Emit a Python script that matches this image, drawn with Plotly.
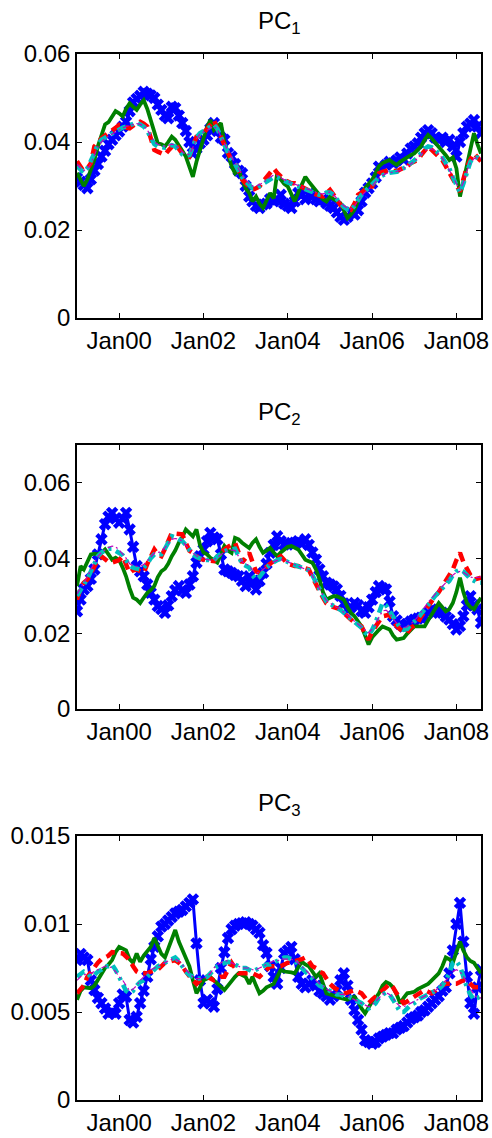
import pandas as pd
import plotly.graph_objects as go
from plotly.subplots import make_subplots

# Monthly observations, Jan 1999 .. Aug 2008
dates = pd.date_range("1999-01-01", periods=116, freq="MS")

# ---- values in units of 1e-3 ----
pc1_blue = [31.8, 31.0, 30.2, 29.5, 31.5, 33.5, 35.0, 36.7, 38.0, 39.5, 40.5, 41.5,
            42.4, 43.5, 44.6, 47.0, 49.0, 49.8, 50.5, 51.4, 51.0, 50.6, 50.0, 48.5,
            47.3, 46.0, 45.4, 48.0, 47.7, 46.0, 44.3, 42.5, 40.0, 37.4, 38.5, 39.7,
            40.5, 41.5, 43.0, 44.3, 42.5, 41.0, 40.5, 37.5, 36.7, 35.0, 33.5, 32.9,
            30.0, 27.6, 26.5, 25.5, 25.0, 25.8, 26.0, 27.0, 26.5, 26.9, 28.0, 26.0,
            25.5, 25.0, 26.5, 28.4, 28.0, 27.0, 28.2, 27.6, 27.0, 26.5, 27.0, 26.1,
            25.5, 25.0, 24.0, 23.0, 22.3, 23.0, 24.0, 23.5, 24.5, 26.5, 28.5, 29.5,
            30.6, 32.0, 34.4, 34.0, 34.8, 35.5, 35.2, 35.8, 36.5, 36.0, 37.4, 38.5,
            39.0, 39.7, 41.0, 42.0, 42.7, 42.0, 41.0, 40.5, 41.0, 40.0, 40.5, 39.0,
            36.7, 40.0, 42.0, 43.5, 44.2, 45.0, 43.5, 42.0]
pc1_green = [33.0, 31.5, 30.0, 31.5, 33.5, 36.0, 39.0, 41.5, 44.0, 44.5, 46.0, 47.0,
             46.5, 45.8, 47.5, 48.8, 48.0, 47.3, 48.5, 49.5, 47.5, 45.0, 42.5, 39.7,
             39.5, 39.0, 40.0, 41.2, 40.5, 39.0, 38.0, 36.7, 34.0, 32.1, 35.5, 38.2,
             41.0, 43.5, 45.0, 42.7, 43.5, 44.3, 40.0, 37.4, 34.5, 32.9, 33.7, 31.5,
             29.5, 28.4, 26.5, 27.6, 26.0, 25.0, 26.5, 28.4, 27.2, 32.9, 31.5, 30.5,
             29.9, 28.0, 26.5, 28.5, 30.5, 32.1, 31.0, 30.0, 29.1, 28.0, 27.0, 26.5,
             27.6, 27.0, 26.5, 26.1, 24.5, 22.7, 23.5, 24.6, 26.5, 28.4, 29.5, 30.5,
             31.4, 33.0, 34.5, 35.2, 35.5, 35.9, 35.3, 34.8, 35.5, 36.0, 36.7, 37.0,
             37.4, 38.2, 39.0, 40.5, 41.6, 40.8, 39.9, 39.0, 38.0, 37.0, 35.9, 36.5,
             34.0, 27.6, 31.0, 35.0, 39.0, 42.0, 39.5, 37.4]
pc1_red = [35.6, 34.5, 33.3, 34.0, 35.2, 39.0, 40.0, 40.8, 41.5, 42.0, 42.8, 43.2,
           43.9, 43.5, 43.3, 43.1, 43.8, 44.3, 44.6, 44.2, 43.5, 41.0, 38.2, 37.8,
           37.5, 37.1, 38.0, 38.8, 39.7, 38.5, 37.4, 37.0, 36.7, 39.0, 41.2, 41.5,
           42.0, 43.0, 44.0, 45.0, 43.0, 41.0, 39.0, 37.5, 36.0, 35.2, 33.5, 31.5,
           30.6, 29.8, 29.1, 29.5, 29.9, 31.0, 32.1, 33.0, 34.0, 33.0, 32.0, 31.4,
           31.0, 30.6, 30.6, 30.2, 29.9, 29.5, 29.0, 28.4, 28.0, 27.8, 27.6, 28.4,
           29.1, 28.0, 27.0, 25.7, 25.2, 24.8, 24.6, 26.0, 28.0, 28.5, 29.2, 29.9,
           29.9, 31.5, 32.9, 33.2, 33.5, 33.7, 33.5, 33.3, 33.8, 34.2, 34.4, 35.2,
           35.5, 35.9, 37.0, 38.2, 39.0, 38.2, 37.4, 36.8, 35.9, 34.5, 33.0, 31.5,
           30.0, 28.7, 31.5, 34.4, 36.0, 37.4, 36.5, 35.6]
pc1_cyan = [34.5, 33.5, 33.0, 34.0, 35.5, 37.5, 39.5, 40.5, 41.0, 41.5, 42.0, 42.5,
            43.0, 43.3, 43.5, 43.8, 44.2, 44.4, 44.0, 43.5, 42.5, 41.0, 39.5, 39.0,
            38.8, 38.7, 39.0, 39.3, 39.0, 38.0, 37.2, 36.8, 37.0, 39.0, 41.0, 42.0,
            42.5, 43.0, 43.5, 44.0, 43.0, 41.0, 39.0, 37.5, 36.0, 35.0, 33.5, 32.0,
            31.0, 30.0, 29.5, 29.5, 30.0, 30.5, 31.0, 31.5, 32.0, 32.0, 31.5, 31.0,
            30.8, 30.5, 30.2, 30.0, 29.8, 29.5, 29.0, 28.6, 28.3, 28.0, 28.0, 28.5,
            28.5, 28.0, 27.0, 26.0, 25.2, 24.7, 24.5, 25.5, 27.0, 28.0, 28.8, 29.5,
            30.3, 31.2, 32.0, 32.5, 32.8, 33.0, 33.0, 33.2, 33.6, 34.0, 34.5, 35.2,
            35.8, 36.5, 37.5, 38.5, 39.0, 38.8, 38.2, 37.5, 36.5, 35.2, 34.0, 32.0,
            30.0, 28.5, 30.5, 33.5, 35.5, 36.5, 36.5, 36.0]
pc1_magenta = [35.0, 34.0, 33.5, 34.0, 35.0, 37.0, 39.0, 40.0, 40.8, 41.3, 41.8, 42.3,
               42.8, 43.2, 43.5, 43.8, 44.0, 44.2, 44.0, 43.6, 42.8, 41.3, 40.0, 39.5,
               39.2, 39.0, 39.2, 39.5, 39.3, 38.5, 37.8, 37.2, 37.2, 38.8, 40.8, 41.8,
               42.3, 42.8, 43.3, 43.6, 42.8, 41.2, 39.5, 38.0, 36.5, 35.3, 33.8, 32.5,
               31.5, 30.5, 30.0, 30.0, 30.3, 30.8, 31.3, 32.0, 32.5, 32.3, 31.8, 31.3,
               31.0, 30.7, 30.4, 30.1, 29.8, 29.5, 29.1, 28.8, 28.5, 28.3, 28.2, 28.5,
               28.6, 28.0, 27.2, 26.2, 25.5, 25.0, 24.8, 25.5, 26.8, 27.8, 28.6, 29.3,
               30.0, 31.0, 31.8, 32.4, 32.8, 33.0, 33.1, 33.3, 33.6, 34.0, 34.4, 35.0,
               35.6, 36.3, 37.2, 38.0, 38.5, 38.4, 38.0, 37.3, 36.3, 35.0, 33.8, 32.2,
               30.5, 29.2, 30.8, 33.5, 35.2, 36.2, 36.5, 36.2]

pc2_blue = [25.9, 29.0, 31.7, 32.6, 34.5, 37.0, 41.0, 45.0, 49.0, 51.0, 52.0, 50.5,
            49.4, 50.5, 52.0, 47.6, 43.0, 37.9, 36.5, 35.2, 33.0, 30.8, 29.0, 27.3,
            26.5, 25.5, 27.5, 29.9, 31.5, 32.6, 31.5, 30.8, 33.0, 35.2, 38.8, 40.5,
            42.3, 44.5, 46.7, 45.5, 45.0, 41.0, 37.0, 36.5, 36.1, 35.5, 35.2, 34.0,
            32.6, 35.2, 33.5, 31.7, 34.0, 36.1, 38.5, 41.4, 43.5, 45.8, 44.5, 43.6,
            43.6, 44.0, 44.1, 44.5, 43.8, 45.0, 43.5, 41.5, 39.6, 37.0, 35.2, 33.5,
            33.0, 32.5, 31.7, 30.0, 28.0, 26.4, 27.0, 28.1, 27.5, 26.0, 25.5, 27.0,
            29.0, 31.0, 32.6, 32.0, 31.7, 28.5, 24.6, 23.5, 22.5, 21.9, 22.5, 23.2,
            23.7, 24.0, 24.2, 24.6, 25.5, 26.4, 26.0, 25.5, 25.5, 24.5, 23.7, 22.5,
            21.1, 22.0, 24.6, 27.5, 29.9, 27.5, 26.4, 22.8]
pc2_green = [32.6, 37.9, 37.0, 39.0, 41.0, 41.2, 41.0, 41.4, 42.3, 41.0, 39.6, 40.1,
             39.5, 37.5, 35.2, 32.0, 29.5, 29.0, 28.1, 29.5, 30.8, 31.5, 32.6, 35.0,
             36.5, 37.2, 38.5, 40.5, 42.0, 44.1, 45.5, 47.6, 46.5, 45.8, 47.6, 43.5,
             41.5, 41.0, 40.1, 39.5, 38.8, 41.0, 43.2, 42.0, 41.4, 45.4, 45.0, 44.1,
             43.5, 42.7, 44.0, 45.0, 43.0, 41.4, 42.0, 42.7, 41.5, 40.5, 41.5, 42.3,
             43.0, 43.2, 42.8, 42.3, 41.0, 39.6, 39.2, 38.8, 37.0, 34.5, 31.0, 29.0,
             29.5, 29.9, 29.9, 29.5, 29.0, 27.0, 25.5, 24.6, 23.0, 21.9, 19.5, 17.1,
             19.0, 20.2, 21.0, 21.9, 21.5, 21.1, 19.5, 18.4, 18.6, 18.8, 20.0, 21.0,
             21.9, 21.9, 21.9, 21.9, 23.5, 25.0, 26.5, 28.1, 27.0, 25.9, 26.5, 28.1,
             31.0, 34.8, 31.0, 28.1, 27.0, 26.4, 28.0, 29.5]
pc2_red = [29.0, 32.0, 33.5, 34.3, 36.0, 37.9, 39.5, 40.5, 39.6, 39.0, 38.8, 39.2,
           39.5, 40.5, 38.5, 36.1, 36.8, 37.0, 36.5, 36.1, 38.5, 40.5, 42.3, 41.0,
           40.5, 42.5, 44.5, 46.7, 46.5, 46.3, 46.3, 44.0, 42.0, 41.4, 40.5, 39.8,
           39.6, 39.4, 39.2, 39.2, 40.5, 41.5, 42.3, 43.0, 43.5, 44.1, 41.5, 38.8,
           40.0, 41.4, 39.0, 36.5, 36.1, 37.0, 37.9, 38.5, 39.2, 40.0, 40.5, 39.5,
           38.5, 38.2, 37.9, 37.9, 37.5, 37.2, 37.0, 35.0, 33.0, 31.7, 29.5, 28.0,
           27.3, 27.0, 26.6, 26.4, 25.5, 24.5, 23.7, 23.0, 22.5, 21.9, 20.0, 18.4,
           20.5, 21.9, 23.5, 24.6, 24.8, 25.0, 23.5, 22.0, 21.1, 20.6, 20.2, 21.5,
           22.0, 22.8, 24.5, 25.9, 27.5, 28.8, 29.9, 31.0, 32.5, 33.5, 35.0, 37.0,
           39.5, 41.4, 39.0, 37.0, 35.5, 34.3, 34.5, 34.8]
pc2_cyan = [30.0, 31.5, 33.0, 34.5, 36.5, 38.5, 40.5, 41.5, 42.0, 42.5, 42.5, 42.0,
            41.5, 40.8, 39.5, 38.0, 37.5, 37.2, 37.0, 37.5, 38.5, 40.0, 41.0, 41.0,
            41.0, 42.5, 44.0, 45.8, 45.5, 45.0, 44.5, 43.5, 42.0, 41.0, 40.3, 39.8,
            39.6, 39.5, 39.4, 39.5, 40.5, 41.2, 41.8, 42.2, 42.5, 42.5, 40.5, 38.5,
            38.0, 37.5, 35.5, 34.3, 35.0, 36.5, 37.5, 38.3, 39.0, 39.5, 39.8, 39.5,
            39.0, 38.5, 38.0, 37.8, 37.5, 37.2, 36.8, 35.5, 33.5, 32.0, 30.0, 28.5,
            27.8, 27.2, 26.8, 26.3, 25.5, 24.5, 23.8, 23.0, 22.3, 21.5, 20.2, 19.5,
            21.0, 23.0, 25.5, 28.1, 27.5, 26.0, 24.0, 22.5, 21.5, 21.0, 21.2, 22.3,
            23.0, 24.0, 25.2, 26.5, 27.8, 29.0, 30.0, 31.0, 32.0, 33.0, 34.0, 35.5,
            36.5, 37.0, 36.5, 35.5, 34.5, 34.0, 33.5, 33.5]
pc2_magenta = [30.5, 32.0, 33.5, 35.0, 37.0, 38.8, 40.5, 41.5, 42.2, 42.8, 43.2, 43.0,
               42.2, 41.2, 40.0, 38.5, 38.0, 37.8, 37.8, 38.3, 39.3, 40.5, 41.3, 41.5,
               41.7, 42.8, 44.0, 45.0, 45.2, 45.0, 44.5, 43.5, 42.3, 41.3, 40.6, 40.0,
               39.8, 39.6, 39.5, 39.6, 40.3, 41.0, 41.6, 42.0, 42.2, 42.0, 40.5, 39.0,
               38.5, 38.0, 36.8, 36.0, 36.3, 37.0, 37.8, 38.5, 39.0, 39.4, 39.6, 39.4,
               39.0, 38.6, 38.2, 37.9, 37.6, 37.2, 36.7, 35.4, 33.6, 32.0, 30.2, 28.8,
               28.0, 27.4, 26.9, 26.4, 25.6, 24.8, 24.0, 23.2, 22.5, 21.8, 20.8, 20.2,
               21.2, 22.8, 24.5, 26.0, 26.2, 25.5, 24.0, 22.8, 22.0, 21.6, 21.8, 22.6,
               23.4, 24.5, 25.8, 27.0, 28.3, 29.4, 30.5, 31.5, 32.5, 33.5, 34.5, 35.5,
               36.2, 36.5, 36.2, 35.6, 35.0, 34.8, 34.8, 35.0]

pc3_blue = [7.95, 8.3, 8.1, 7.95, 6.8, 6.25, 5.8, 5.5, 5.2, 4.9, 5.0, 4.9,
            5.5, 6.0, 5.87, 4.55, 4.4, 4.73, 5.5, 6.2, 7.0, 8.0, 8.7, 9.3,
            9.85, 10.0, 10.2, 10.4, 10.6, 10.7, 10.8, 11.0, 11.2, 11.4, 8.9, 6.8,
            5.5, 5.7, 5.5, 5.3, 6.3, 7.5, 8.4, 9.2, 9.7, 9.9, 10.0, 10.05,
            10.1, 10.0, 9.9, 9.7, 9.5, 8.8, 8.35, 7.6, 7.0, 6.6, 7.5, 8.33,
            8.5, 8.7, 8.0, 7.0, 6.6, 6.4, 6.6, 6.8, 6.5, 6.2, 6.06, 5.9,
            5.7, 5.9, 6.25, 6.8, 7.2, 6.5, 5.7, 5.1, 4.55, 4.0, 3.4, 3.3,
            3.2, 3.3, 3.5, 3.6, 3.7, 3.8, 3.8, 4.0, 4.1, 4.2, 4.4, 4.6,
            4.7, 4.8, 5.0, 5.1, 5.3, 5.5, 5.7, 5.9, 6.2, 6.4, 7.2, 8.5,
            10.0, 11.2, 9.0, 7.0, 5.5, 4.9, 6.4, 7.4]
pc3_green = [5.7, 6.2, 6.4, 6.35, 6.35, 6.5, 6.8, 7.2, 7.5, 7.7, 7.95, 8.4,
             8.7, 8.6, 8.5, 8.0, 7.8, 8.33, 7.86, 8.2, 8.5, 8.7, 9.2, 8.7,
             8.3, 8.1, 8.6, 9.1, 9.66, 9.0, 8.5, 8.0, 7.6, 6.8, 6.06, 6.4,
             6.8, 6.9, 7.0, 6.8, 6.6, 6.4, 6.25, 6.5, 6.8, 7.0, 7.2, 7.1,
             7.0, 6.6, 7.0, 6.5, 6.06, 6.2, 6.4, 6.5, 6.6, 7.0, 7.4, 7.3,
             7.3, 7.25, 7.2, 7.5, 7.86, 7.7, 7.6, 7.3, 7.0, 7.2, 6.6, 6.06,
             6.0, 5.9, 5.87, 5.8, 5.75, 5.7, 5.8, 5.87, 5.6, 5.2, 4.92, 5.3,
             5.6, 5.8, 6.06, 6.5, 6.7, 6.6, 6.4, 6.0, 5.5, 5.8, 6.06, 6.1,
             6.15, 6.3, 6.4, 6.5, 6.6, 6.8, 7.0, 7.2, 7.6, 8.1, 8.0, 7.8,
             8.4, 9.0, 8.5, 8.1, 7.9, 7.8, 7.5, 7.2]
pc3_red = [6.06, 6.3, 6.5, 7.0, 7.3, 7.6, 7.8, 8.0, 8.1, 8.2, 8.4, 8.35,
           8.35, 8.33, 8.1, 7.95, 7.6, 7.3, 7.2, 7.2, 7.2, 7.3, 7.35, 7.4,
           7.6, 7.8, 7.85, 7.9, 7.95, 7.8, 7.6, 7.3, 7.0, 6.8, 6.6, 6.8,
           7.0, 7.0, 6.9, 6.8, 6.9, 7.0, 7.0, 7.4, 7.8, 7.5, 7.2, 7.2,
           7.2, 7.2, 7.2, 7.1, 7.0, 7.2, 7.4, 7.6, 7.6, 7.6, 7.6, 7.7,
           7.8, 7.8, 7.9, 7.95, 8.0, 8.1, 7.9, 7.6, 7.5, 7.3, 7.2, 6.9,
           6.6, 6.4, 6.3, 6.2, 6.06, 6.1, 6.2, 6.25, 6.15, 6.06, 5.8, 5.5,
           5.7, 5.87, 6.0, 6.25, 6.4, 6.6, 6.4, 6.06, 5.8, 5.5, 5.6, 5.7,
           5.87, 6.0, 6.1, 6.25, 6.15, 6.06, 6.2, 6.4, 6.5, 6.6, 6.6, 6.6,
           6.6, 6.7, 6.8, 6.8, 6.6, 6.4, 6.4, 6.4]
pc3_cyan = [7.0, 7.2, 7.3, 7.2, 7.0, 7.1, 7.3, 7.4, 7.6, 7.6, 7.7, 7.4,
            7.0, 6.6, 6.2, 6.06, 6.2, 6.5, 6.7, 6.8, 7.0, 7.2, 7.4, 7.6,
            7.7, 7.8, 7.9, 8.0, 8.1, 7.9, 7.6, 7.3, 7.1, 7.0, 6.9, 6.9,
            6.9, 7.0, 7.2, 7.4, 7.6, 7.7, 7.8, 7.85, 7.8, 7.7, 7.6, 7.5,
            7.5, 7.4, 7.3, 7.4, 7.5, 7.6, 7.7, 7.7, 7.8, 7.9, 8.0, 8.1,
            8.1, 8.0, 7.9, 7.7, 7.5, 7.3, 7.1, 6.9, 6.7, 6.5, 6.4, 6.3,
            6.2, 6.1, 6.0, 6.0, 5.9, 5.9, 5.8, 5.7, 5.6, 5.5, 5.3, 5.2,
            5.3, 5.5, 5.8, 6.0, 6.1, 6.0, 5.7, 5.3, 5.0, 5.0, 5.2, 5.4,
            5.5, 5.7, 5.8, 5.9, 6.0, 6.1, 6.2, 6.3, 6.5, 6.8, 7.2, 7.8,
            7.9, 7.6, 7.0, 6.4, 6.0, 5.7, 5.8, 5.9]
pc3_magenta = [6.8, 7.0, 7.1, 7.2, 7.2, 7.3, 7.4, 7.5, 7.6, 7.6, 7.5, 7.3,
               7.0, 6.8, 6.5, 6.2, 6.3, 6.5, 6.8, 7.0, 7.2, 7.4, 7.5, 7.6,
               7.7, 7.8, 7.9, 8.0, 8.0, 7.9, 7.7, 7.4, 7.2, 7.0, 6.9, 6.9,
               6.9, 7.0, 7.2, 7.5, 7.7, 7.8, 7.9, 7.9, 7.8, 7.7, 7.6, 7.5,
               7.5, 7.5, 7.4, 7.4, 7.5, 7.6, 7.7, 7.8, 7.9, 7.9, 8.0, 8.0,
               8.0, 8.0, 7.9, 7.8, 7.6, 7.4, 7.2, 7.0, 6.8, 6.6, 6.5, 6.3,
               6.2, 6.1, 6.1, 6.0, 6.0, 5.9, 5.8, 5.7, 5.6, 5.5, 5.4, 5.3,
               5.4, 5.6, 5.8, 6.0, 6.1, 6.0, 5.8, 5.5, 5.3, 5.3, 5.4, 5.5,
               5.6, 5.7, 5.8, 5.9, 6.0, 6.1, 6.2, 6.4, 6.6, 6.8, 7.0, 7.3,
               7.4, 7.3, 7.0, 6.7, 6.3, 6.0, 5.8, 5.8]

SCALE = 1e-3

titles = ["PC<sub>1</sub>", "PC<sub>2</sub>", "PC<sub>3</sub>"]
xtick_vals = ["2000-01-01", "2002-01-01", "2004-01-01", "2006-01-01", "2008-01-01"]
xtick_text = ["Jan00", "Jan02", "Jan04", "Jan06", "Jan08"]
y_ranges = [[0, 0.06], [0, 0.07], [0, 0.015]]
ytick_vals = [[0, 0.02, 0.04, 0.06], [0, 0.02, 0.04, 0.06], [0, 0.005, 0.01, 0.015]]
ytick_text = [["0", "0.02", "0.04", "0.06"], ["0", "0.02", "0.04", "0.06"],
              ["0", "0.005", "0.01", "0.015"]]

panels = [
    (pc1_blue, pc1_green, pc1_red, pc1_cyan, pc1_magenta),
    (pc2_blue, pc2_green, pc2_red, pc2_cyan, pc2_magenta),
    (pc3_blue, pc3_green, pc3_red, pc3_cyan, pc3_magenta),
]
for p in panels:
    for s in p:
        assert len(s) == len(dates), len(s)

fig = make_subplots(rows=3, cols=1)

FONT = "Arial, Liberation Sans, Helvetica, sans-serif"
FS = 24
for i, (b, g, r, c, m) in enumerate(panels):
    row = i + 1
    sc = lambda arr: [v * SCALE for v in arr]
    fig.add_trace(go.Scatter(x=dates, y=sc(b), mode="lines+markers",
                             line=dict(color="#0000FF", width=3),
                             marker=dict(symbol="x", size=11, color="#0000FF",
                                         line=dict(width=0)),
                             showlegend=False), row=row, col=1)
    fig.add_trace(go.Scatter(x=dates, y=sc(g), mode="lines",
                             line=dict(color="#008000", width=3.8),
                             showlegend=False), row=row, col=1)
    fig.add_trace(go.Scatter(x=dates, y=sc(r), mode="lines",
                             line=dict(color="#FF0000", width=4.5, dash="10px,6px"),
                             showlegend=False), row=row, col=1)
    fig.add_trace(go.Scatter(x=dates, y=sc(c), mode="lines",
                             line=dict(color="#00BFBF", width=4.5,
                                       dash="9px,5px,3px,5px"),
                             showlegend=False), row=row, col=1)
    fig.add_trace(go.Scatter(x=dates, y=sc(m), mode="lines",
                             line=dict(color="#BF00BF", width=1.2,
                                       dash="6px,3px,2px,3px"),
                             showlegend=False), row=row, col=1)

H = 1138
top, bottom = 54, 38
ph = 264
gap = (H - top - bottom - 3 * ph) / 2
tot = H - top - bottom
domains = []
for i in range(3):
    y_top_px = top + i * (ph + gap)
    y_bot_px = y_top_px + ph
    domains.append([(H - bottom - y_bot_px) / tot, (H - bottom - y_top_px) / tot])

for i in range(3):
    ax = "" if i == 0 else str(i + 1)
    fig.layout["xaxis" + ax].update(
        range=["1999-01-01", "2008-08-01"], tickvals=xtick_vals, ticktext=xtick_text,
        ticks="inside", ticklen=5, tickcolor="black", mirror="ticks", showline=True,
        linecolor="black", linewidth=1.5, showgrid=False, zeroline=False,
        automargin=False,
        tickfont=dict(size=FS, color="black", family=FONT))
    fig.layout["yaxis" + ax].update(
        domain=domains[i], range=y_ranges[i], tickvals=ytick_vals[i],
        ticktext=ytick_text[i], ticks="inside", ticklen=5, tickcolor="black",
        mirror="ticks", showline=True, linecolor="black", linewidth=1.5,
        showgrid=False, zeroline=False, automargin=False,
        tickfont=dict(size=FS, color="black", family=FONT))
    fig.add_annotation(text=titles[i], xref="paper", yref="paper", x=0.5,
                       y=domains[i][1], yanchor="bottom", yshift=14,
                       showarrow=False, font=dict(size=FS, color="black", family=FONT))

fig.update_layout(width=492, height=1138, margin=dict(l=77, r=11, t=top, b=bottom),
                  paper_bgcolor="white", plot_bgcolor="white",
                  font=dict(family=FONT, color="black"))

fig.write_html("out.html", config={"displayModeBar": False},
               post_script="document.body.style.margin='0';"
                           "document.body.style.overflow='hidden';")
